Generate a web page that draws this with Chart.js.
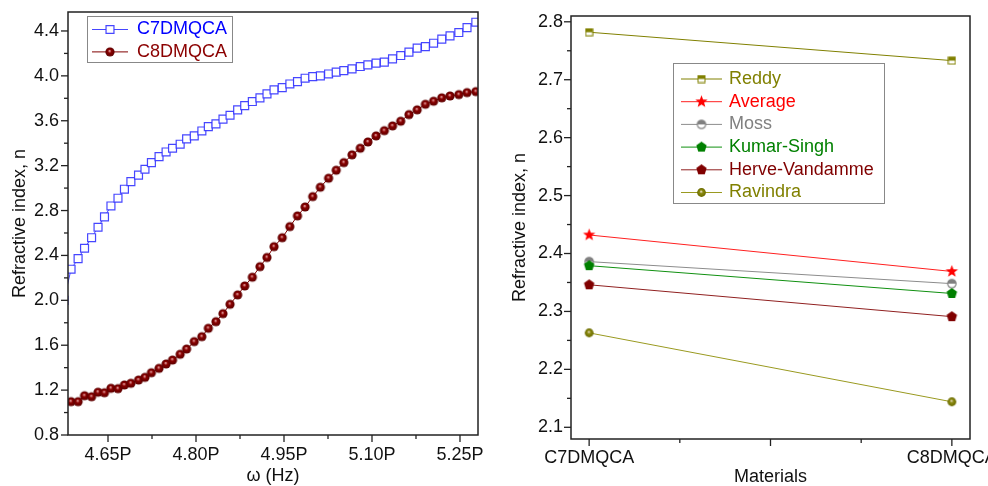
<!DOCTYPE html>
<html>
<head>
<meta charset="utf-8">
<script src="https://cdn.jsdelivr.net/npm/chart.js@4.4.1/dist/chart.umd.min.js"></script>
<style>
  html, body { margin: 0; padding: 0; background: #fff; overflow: hidden; }
  body { width: 988px; height: 486px; position: relative; }
  .box { position: absolute; top: 0; }
  #left { left: 0; }
  #right { left: 494px; }
</style>
</head>
<body>
<div class="box" id="left"><canvas id="chartLeft" width="494" height="486"></canvas></div>
<div class="box" id="right"><canvas id="chartRight" width="494" height="486"></canvas></div>
<script>
// left panel: refractive index vs frequency (PHz)
const omega = [4.575, 4.587, 4.599, 4.610, 4.622, 4.633, 4.644, 4.655, 4.667, 4.678, 4.689,
  4.702, 4.713, 4.724, 4.737, 4.749, 4.760, 4.773, 4.784, 4.797, 4.810, 4.821, 4.834, 4.846,
  4.858, 4.871, 4.883, 4.896, 4.909, 4.921, 4.933, 4.947, 4.960, 4.973, 4.986, 4.999, 5.012,
  5.026, 5.039, 5.052, 5.066, 5.080, 5.093, 5.107, 5.121, 5.135, 5.149, 5.163, 5.177, 5.191,
  5.205, 5.219, 5.233, 5.248, 5.262, 5.277];
const c7n = [2.00, 2.277, 2.371, 2.464, 2.558, 2.651, 2.743, 2.841, 2.910, 2.990, 3.058,
  3.115, 3.168, 3.227, 3.280, 3.322, 3.355, 3.391, 3.438, 3.465, 3.509, 3.548, 3.572, 3.614,
  3.649, 3.697, 3.735, 3.771, 3.804, 3.839, 3.875, 3.895, 3.928, 3.949, 3.979, 3.993, 4.000,
  4.017, 4.033, 4.047, 4.062, 4.083, 4.098, 4.113, 4.122, 4.151, 4.181, 4.211, 4.247, 4.261,
  4.291, 4.327, 4.356, 4.386, 4.430, 4.478];
const c8n = [null, 1.097, 1.097, 1.150, 1.141, 1.181, 1.177, 1.216, 1.213, 1.246, 1.261,
  1.290, 1.314, 1.355, 1.394, 1.433, 1.468, 1.519, 1.566, 1.632, 1.676, 1.751, 1.810, 1.881,
  1.965, 2.048, 2.128, 2.206, 2.300, 2.382, 2.478, 2.558, 2.657, 2.752, 2.832, 2.924, 3.008,
  3.088, 3.159, 3.227, 3.296, 3.355, 3.411, 3.465, 3.512, 3.554, 3.596, 3.655, 3.697, 3.747,
  3.774, 3.804, 3.821, 3.833, 3.851, 3.860];

// right panel: refractive index by model
const materials = ['C7DMQCA', 'C8DMQCA'];
const reddy = [2.782, 2.733];
const average = [2.432, 2.369];
const moss = [2.386, 2.348];
const kumarSingh = [2.379, 2.331];
const herveVandamme = [2.346, 2.291];
const ravindra = [2.263, 2.144];

Chart.defaults.font.family = "'Liberation Sans', Arial, sans-serif";
Chart.defaults.font.size = 18;
Chart.defaults.color = '#111';

function isStep(v, step) {
  return Math.abs(v / step - Math.round(v / step)) < 1e-6;
}

// marker images
function makeCanvas(size, draw) {
  const c = document.createElement('canvas');
  c.width = c.height = size;
  draw(c.getContext('2d'), size / 2);
  return c;
}
function sphere(r, light, base, dark) {
  return makeCanvas(Math.ceil(r * 2 + 2), (g, m) => {
    const grad = g.createRadialGradient(m - r * 0.1, m - r * 0.25, 0, m, m, r);
    grad.addColorStop(0, light);
    grad.addColorStop(0.4, base);
    grad.addColorStop(1, dark);
    g.fillStyle = grad;
    g.beginPath(); g.arc(m, m, r, 0, Math.PI * 2); g.fill();
  });
}
function halfSquare(side, color) {
  return makeCanvas(side + 2, (g, m) => {
    const h = side / 2;
    g.fillStyle = '#fff'; g.fillRect(m - h, m - h, side, side);
    g.fillStyle = color; g.fillRect(m - h, m - h, side, h);
    g.strokeStyle = color; g.lineWidth = 1; g.strokeRect(m - h, m - h, side, side);
  });
}
function halfCircle(r, color) {
  return makeCanvas(Math.ceil(r * 2 + 3), (g, m) => {
    g.fillStyle = '#fff'; g.beginPath(); g.arc(m, m, r, 0, Math.PI * 2); g.fill();
    g.fillStyle = color; g.beginPath(); g.arc(m, m, r, Math.PI, 0); g.closePath(); g.fill();
    g.strokeStyle = color; g.lineWidth = 1.2; g.beginPath(); g.arc(m, m, r, 0, Math.PI * 2); g.stroke();
  });
}
function polygon(n, r, inner, color) {
  return makeCanvas(Math.ceil(r * 2 + 2), (g, m) => {
    g.fillStyle = color;
    g.beginPath();
    const k = inner ? n * 2 : n;
    for (let i = 0; i < k; i++) {
      const a = -Math.PI / 2 + i * Math.PI * 2 / k;
      const rr = inner && i % 2 ? inner : r;
      g.lineTo(m + rr * Math.cos(a), m + rr * Math.sin(a));
    }
    g.closePath(); g.fill();
  });
}

const redBall = sphere(4.6, '#f2b8b8', '#8a0000', '#5a0000');
const olive = '#808000';

// box frame + outward major/minor ticks
const frameTicks = {
  id: 'frameTicks',
  afterDraw(chart, args, opts) {
    const {ctx, chartArea: a} = chart;
    ctx.save();
    ctx.strokeStyle = '#222';
    ctx.lineWidth = 1.5;
    ctx.strokeRect(a.left, a.top, a.right - a.left, a.bottom - a.top);
    ctx.lineWidth = 1.3;
    ['x', 'y'].forEach(id => {
      const sc = chart.scales[id];
      sc.ticks.forEach(t => {
        const len = isStep(t.value, opts[id]) ? 7 : 4;
        const p = sc.getPixelForValue(t.value);
        ctx.beginPath();
        if (id === 'x') { ctx.moveTo(p, a.bottom); ctx.lineTo(p, a.bottom + len); }
        else { ctx.moveTo(a.left, p); ctx.lineTo(a.left - len, p); }
        ctx.stroke();
      });
    });
    ctx.restore();
  }
};

// legend box drawn inside the plot
const boxLegend = {
  id: 'boxLegend',
  afterDraw(chart, args, o) {
    const ctx = chart.ctx;
    ctx.save();
    ctx.fillStyle = '#fff';
    ctx.fillRect(o.x, o.y, o.w, o.h);
    ctx.strokeStyle = '#888';
    ctx.lineWidth = 1;
    ctx.strokeRect(o.x + 0.5, o.y + 0.5, o.w, o.h);
    ctx.font = o.font;
    ctx.textBaseline = 'middle';
    chart.data.datasets.forEach((ds, i) => {
      const y = o.y + o.first + i * o.row;
      ctx.strokeStyle = ds.borderColor;
      ctx.lineWidth = ds.borderWidth;
      ctx.beginPath(); ctx.moveTo(o.x + o.line[0], y); ctx.lineTo(o.x + o.line[1], y); ctx.stroke();
      ctx.fillStyle = ds.pointBackgroundColor || '#fff';
      ctx.strokeStyle = ds.pointBorderColor || ds.borderColor;
      ctx.lineWidth = ds.pointBorderWidth || 1;
      Chart.helpers.drawPoint(ctx, {pointStyle: ds.pointStyle, radius: ds.pointRadius, rotation: 0,
        borderWidth: ds.pointBorderWidth || 1}, o.x + (o.line[0] + o.line[1]) / 2, y);
      ctx.fillStyle = ds.textColor;
      ctx.fillText(ds.label, o.x + o.text, y);
    });
    ctx.restore();
  }
};

// keep the plot box where the reference has it
function fixX(h) {
  return s => { s.height = h; s.paddingLeft = 0; s.paddingRight = 0; };
}
function fixY(w) {
  return s => { s.width = w; s.paddingTop = 0; s.paddingBottom = 0; };
}

new Chart(document.getElementById('chartLeft'), {
  type: 'line',
  data: {
    datasets: [
      {
        label: 'C7DMQCA',
        data: omega.map((x, i) => ({x: x, y: c7n[i]})),
        borderColor: 'rgba(50,50,255,0.9)',
        borderWidth: 1,
        pointStyle: 'rect',
        pointRadius: 5.6,
        pointBackgroundColor: '#fff',
        pointBorderColor: 'rgba(50,50,255,0.9)',
        pointBorderWidth: 1.2,
        textColor: '#0000ff'
      },
      {
        label: 'C8DMQCA',
        data: omega.map((x, i) => ({x: x, y: c8n[i]})),
        borderColor: '#800000',
        borderWidth: 1,
        pointStyle: redBall,
        pointRadius: 4.6,
        textColor: '#8b0000'
      }
    ]
  },
  options: {
    responsive: false,
    animation: false,
    events: [],
    layout: {padding: {left: 0, top: 12, right: 16, bottom: 0}},
    plugins: {
      legend: {display: false},
      tooltip: {enabled: false},
      frameTicks: {x: 0.15, y: 0.4},
      boxLegend: {x: 87, y: 16, w: 145, h: 46, first: 13.5, row: 22.4, line: [5, 41], text: 50,
        font: "18px 'Liberation Sans', Arial, sans-serif"}
    },
    scales: {
      x: {
        type: 'linear',
        min: 4.5818,
        max: 5.2807,
        grid: {display: false, drawTicks: false},
        border: {display: false},
        ticks: {stepSize: 0.075, autoSkip: false, includeBounds: false, maxRotation: 0, padding: 9,
          callback: v => isStep(v, 0.15) ? v.toFixed(2) + 'P' : ''},
        title: {display: true, text: 'ω (Hz)', font: {size: 18, lineHeight: 1}, padding: {top: 0, bottom: 0.5}},
        afterFit: fixX(51)
      },
      y: {
        min: 0.8,
        max: 4.569,
        grid: {display: false, drawTicks: false},
        border: {display: false},
        ticks: {stepSize: 0.2, autoSkip: false, includeBounds: false, padding: 9,
          callback: v => isStep(v, 0.4) ? v.toFixed(1) : ''},
        title: {display: true, text: 'Refractive index, n', font: {size: 18, lineHeight: 1}, padding: {top: 11.5, bottom: 0}},
        afterFit: fixY(68)
      }
    }
  },
  plugins: [frameTicks, boxLegend]
});

const rightSeries = [
  {label: 'Reddy', values: reddy, color: olive, text: olive, marker: halfSquare(7, olive)},
  {label: 'Average', values: average, color: '#ff2020', text: '#ff0000', marker: polygon(5, 6.5, 2.7, '#ff0000')},
  {label: 'Moss', values: moss, color: '#8c8c8c', text: '#808080', marker: halfCircle(4.2, '#808080')},
  {label: 'Kumar-Singh', values: kumarSingh, color: '#109010', text: '#008000', marker: polygon(5, 5.5, 0, '#008000')},
  {label: 'Herve-Vandamme', values: herveVandamme, color: '#902020', text: '#800000', marker: polygon(5, 5.5, 0, '#800000')},
  {label: 'Ravindra', values: ravindra, color: '#9a9a20', text: olive, marker: sphere(4.4, '#f4e4d8', '#8a8a10', '#6a6a00')}
];

new Chart(document.getElementById('chartRight'), {
  type: 'line',
  data: {
    datasets: rightSeries.map((s, i) => ({
      label: s.label,
      data: s.values.map((v, j) => ({x: j + 1, y: v})),
      borderColor: s.color,
      borderWidth: 1,
      pointStyle: s.marker,
      pointRadius: 5,
      textColor: s.text,
      order: rightSeries.length - i
    }))
  },
  options: {
    responsive: false,
    animation: false,
    events: [],
    layout: {padding: {left: 0, top: 16, right: 18, bottom: 0}},
    plugins: {
      legend: {display: false},
      tooltip: {enabled: false},
      frameTicks: {x: 0.5, y: 0.1},
      boxLegend: {x: 179, y: 63, w: 211, h: 140, first: 16, row: 22.7, line: [8, 49], text: 56,
        font: "18px 'Liberation Sans', Arial, sans-serif"}
    },
    scales: {
      x: {
        type: 'linear',
        min: 0.95,
        max: 2.05,
        grid: {display: false, drawTicks: false},
        border: {display: false},
        ticks: {stepSize: 0.25, autoSkip: false, includeBounds: false, maxRotation: 0, padding: 8,
          callback: v => isStep(v, 1) ? materials[Math.round(v) - 1] : ''},
        title: {display: true, text: 'Materials', font: {size: 18, lineHeight: 1}, padding: {top: 0, bottom: 0}},
        afterFit: fixX(47)
      },
      y: {
        min: 2.0798,
        max: 2.810,
        grid: {display: false, drawTicks: false},
        border: {display: false},
        ticks: {stepSize: 0.05, autoSkip: false, includeBounds: false, padding: 8,
          callback: v => isStep(v, 0.1) ? v.toFixed(1) : ''},
        title: {display: true, text: 'Refractive index, n', font: {size: 18, lineHeight: 1}, padding: {top: 17, bottom: 0}},
        afterFit: fixY(77)
      }
    }
  },
  plugins: [frameTicks, boxLegend]
});
</script>
</body>
</html>
